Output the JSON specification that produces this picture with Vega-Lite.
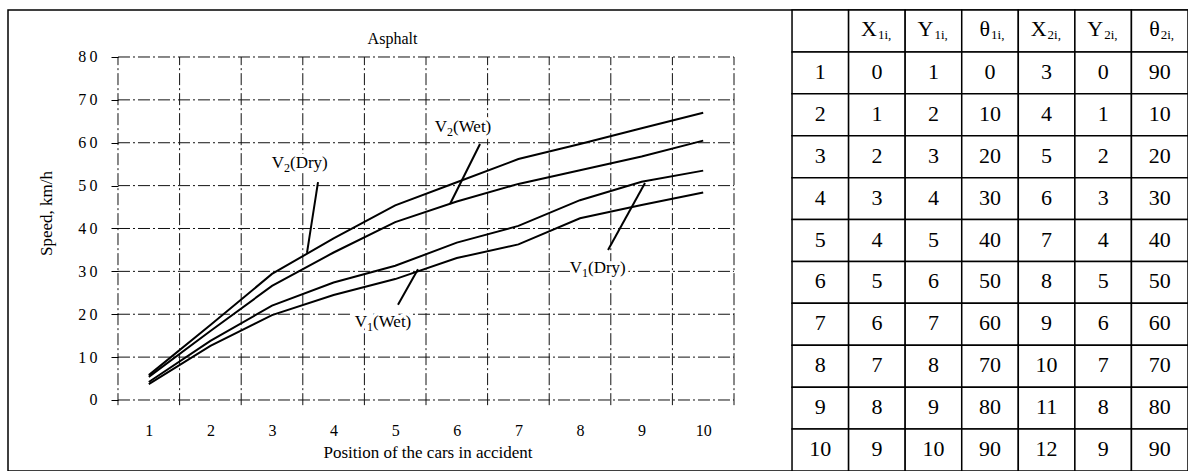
{
  "$schema": "https://vega.github.io/schema/vega-lite/v6.json",
  "width": 1180,
  "height": 461,
  "autosize": {"type": "none"},
  "padding": {"left": 8, "top": 10, "right": 0, "bottom": 0},
  "background": "white",
  "config": {
    "view": {"stroke": "#000", "strokeWidth": 1.5, "fill": "white"},
    "axis": {"labelFont": "Liberation Serif", "titleFont": "Liberation Serif", "labelColor": "#000", "titleColor": "#000", "tickColor": "#000", "titleFontWeight": "normal"}
  },
  "datasets": {
    "speeds": [
      {"s": "V2 Dry", "pos": 1, "v": 5.8}, {"s": "V2 Dry", "pos": 2, "v": 17.5}, {"s": "V2 Dry", "pos": 3, "v": 29.4}, {"s": "V2 Dry", "pos": 4, "v": 37.7}, {"s": "V2 Dry", "pos": 5, "v": 45.4}, {"s": "V2 Dry", "pos": 6, "v": 50.8}, {"s": "V2 Dry", "pos": 7, "v": 56.2}, {"s": "V2 Dry", "pos": 8, "v": 59.7}, {"s": "V2 Dry", "pos": 9, "v": 63.4}, {"s": "V2 Dry", "pos": 10, "v": 67.0},
      {"s": "V2 Wet", "pos": 1, "v": 5.4}, {"s": "V2 Wet", "pos": 2, "v": 16.1}, {"s": "V2 Wet", "pos": 3, "v": 26.6}, {"s": "V2 Wet", "pos": 4, "v": 34.4}, {"s": "V2 Wet", "pos": 5, "v": 41.5}, {"s": "V2 Wet", "pos": 6, "v": 46.3}, {"s": "V2 Wet", "pos": 7, "v": 50.4}, {"s": "V2 Wet", "pos": 8, "v": 53.6}, {"s": "V2 Wet", "pos": 9, "v": 56.8}, {"s": "V2 Wet", "pos": 10, "v": 60.5},
      {"s": "V1 Dry", "pos": 1, "v": 4.2}, {"s": "V1 Dry", "pos": 2, "v": 13.8}, {"s": "V1 Dry", "pos": 3, "v": 22.0}, {"s": "V1 Dry", "pos": 4, "v": 27.4}, {"s": "V1 Dry", "pos": 5, "v": 31.3}, {"s": "V1 Dry", "pos": 6, "v": 36.7}, {"s": "V1 Dry", "pos": 7, "v": 40.6}, {"s": "V1 Dry", "pos": 8, "v": 46.6}, {"s": "V1 Dry", "pos": 9, "v": 50.9}, {"s": "V1 Dry", "pos": 10, "v": 53.5},
      {"s": "V1 Wet", "pos": 1, "v": 3.7}, {"s": "V1 Wet", "pos": 2, "v": 12.6}, {"s": "V1 Wet", "pos": 3, "v": 19.8}, {"s": "V1 Wet", "pos": 4, "v": 24.5}, {"s": "V1 Wet", "pos": 5, "v": 28.2}, {"s": "V1 Wet", "pos": 6, "v": 33.1}, {"s": "V1 Wet", "pos": 7, "v": 36.3}, {"s": "V1 Wet", "pos": 8, "v": 42.4}, {"s": "V1 Wet", "pos": 9, "v": 45.5}, {"s": "V1 Wet", "pos": 10, "v": 48.4}
    ],
    "hgrid": [{"g": 0}, {"g": 10}, {"g": 20}, {"g": 30}, {"g": 40}, {"g": 50}, {"g": 60}, {"g": 70}, {"g": 80}],
    "vgrid": [{"g": 0.5}, {"g": 1.5}, {"g": 2.5}, {"g": 3.5}, {"g": 4.5}, {"g": 5.5}, {"g": 6.5}, {"g": 7.5}, {"g": 8.5}, {"g": 9.5}, {"g": 10.5}],
    "labels": [
      {"v": "V", "n": "2", "r": "\u00a0(Dry)", "x": 3.195, "y": 55.3},
      {"v": "V", "n": "2", "r": "\u00a0(Wet)", "x": 5.841, "y": 63.7},
      {"v": "V", "n": "1", "r": "(Dry)", "x": 8.032, "y": 30.8},
      {"v": "V", "n": "1", "r": "(Wet)", "x": 4.542, "y": 18.2}
    ],
    "pointers": [
      {"x": 3.747, "y": 50.8, "x2": 3.568, "y2": 34.3},
      {"x": 6.377, "y": 59.7, "x2": 5.89, "y2": 45.7},
      {"x": 8.455, "y": 35.0, "x2": 9.055, "y2": 50.6},
      {"x": 5.045, "y": 22.2, "x2": 5.37, "y2": 30.5}
    ],
    "header": [
      {"row": "h", "col": "c0", "m": "", "s": ""},
      {"row": "h", "col": "c1", "m": "X", "s": "1i,"},
      {"row": "h", "col": "c2", "m": "Y", "s": "1i,"},
      {"row": "h", "col": "c3", "m": "θ", "s": "1i,"},
      {"row": "h", "col": "c4", "m": "X", "s": "2i,"},
      {"row": "h", "col": "c5", "m": "Y", "s": "2i,"},
      {"row": "h", "col": "c6", "m": "θ", "s": "2i,"}
    ],
    "body": [
      {"row": "1", "col": "c0", "t": "1"}, {"row": "1", "col": "c1", "t": "0"}, {"row": "1", "col": "c2", "t": "1"}, {"row": "1", "col": "c3", "t": "0"}, {"row": "1", "col": "c4", "t": "3"}, {"row": "1", "col": "c5", "t": "0"}, {"row": "1", "col": "c6", "t": "90"},
      {"row": "2", "col": "c0", "t": "2"}, {"row": "2", "col": "c1", "t": "1"}, {"row": "2", "col": "c2", "t": "2"}, {"row": "2", "col": "c3", "t": "10"}, {"row": "2", "col": "c4", "t": "4"}, {"row": "2", "col": "c5", "t": "1"}, {"row": "2", "col": "c6", "t": "10"},
      {"row": "3", "col": "c0", "t": "3"}, {"row": "3", "col": "c1", "t": "2"}, {"row": "3", "col": "c2", "t": "3"}, {"row": "3", "col": "c3", "t": "20"}, {"row": "3", "col": "c4", "t": "5"}, {"row": "3", "col": "c5", "t": "2"}, {"row": "3", "col": "c6", "t": "20"},
      {"row": "4", "col": "c0", "t": "4"}, {"row": "4", "col": "c1", "t": "3"}, {"row": "4", "col": "c2", "t": "4"}, {"row": "4", "col": "c3", "t": "30"}, {"row": "4", "col": "c4", "t": "6"}, {"row": "4", "col": "c5", "t": "3"}, {"row": "4", "col": "c6", "t": "30"},
      {"row": "5", "col": "c0", "t": "5"}, {"row": "5", "col": "c1", "t": "4"}, {"row": "5", "col": "c2", "t": "5"}, {"row": "5", "col": "c3", "t": "40"}, {"row": "5", "col": "c4", "t": "7"}, {"row": "5", "col": "c5", "t": "4"}, {"row": "5", "col": "c6", "t": "40"},
      {"row": "6", "col": "c0", "t": "6"}, {"row": "6", "col": "c1", "t": "5"}, {"row": "6", "col": "c2", "t": "6"}, {"row": "6", "col": "c3", "t": "50"}, {"row": "6", "col": "c4", "t": "8"}, {"row": "6", "col": "c5", "t": "5"}, {"row": "6", "col": "c6", "t": "50"},
      {"row": "7", "col": "c0", "t": "7"}, {"row": "7", "col": "c1", "t": "6"}, {"row": "7", "col": "c2", "t": "7"}, {"row": "7", "col": "c3", "t": "60"}, {"row": "7", "col": "c4", "t": "9"}, {"row": "7", "col": "c5", "t": "6"}, {"row": "7", "col": "c6", "t": "60"},
      {"row": "8", "col": "c0", "t": "8"}, {"row": "8", "col": "c1", "t": "7"}, {"row": "8", "col": "c2", "t": "8"}, {"row": "8", "col": "c3", "t": "70"}, {"row": "8", "col": "c4", "t": "10"}, {"row": "8", "col": "c5", "t": "7"}, {"row": "8", "col": "c6", "t": "70"},
      {"row": "9", "col": "c0", "t": "9"}, {"row": "9", "col": "c1", "t": "8"}, {"row": "9", "col": "c2", "t": "9"}, {"row": "9", "col": "c3", "t": "80"}, {"row": "9", "col": "c4", "t": "11"}, {"row": "9", "col": "c5", "t": "8"}, {"row": "9", "col": "c6", "t": "80"},
      {"row": "10", "col": "c0", "t": "10"}, {"row": "10", "col": "c1", "t": "9"}, {"row": "10", "col": "c2", "t": "10"}, {"row": "10", "col": "c3", "t": "90"}, {"row": "10", "col": "c4", "t": "12"}, {"row": "10", "col": "c5", "t": "9"}, {"row": "10", "col": "c6", "t": "90"}
    ]
  },
  "layer": [
    {
      "data": {"name": "hgrid"},
      "mark": {"type": "rule", "stroke": "#111", "strokeWidth": 1, "strokeDash": [12, 3, 2, 3]},
      "encoding": {
        "y": {"field": "g", "type": "quantitative", "scale": {"domain": [-16.56, 90.962], "nice": false, "zero": false}, "axis": null},
        "x": {"datum": 0.5, "type": "quantitative", "scale": {"domain": [-1.2857, 17.87], "nice": false, "zero": false}, "axis": null},
        "x2": {"datum": 10.5}
      }
    },
    {
      "data": {"name": "vgrid"},
      "mark": {"type": "rule", "stroke": "#111", "strokeWidth": 1, "strokeDash": [12, 3, 2, 3]},
      "encoding": {
        "x": {"field": "g", "type": "quantitative", "scale": {"domain": [-1.2857, 17.87], "nice": false, "zero": false}, "axis": null},
        "y": {"datum": -1.2, "type": "quantitative", "scale": {"domain": [-16.56, 90.962], "nice": false, "zero": false}, "axis": null},
        "y2": {"datum": 80}
      }
    },
    {
      "data": {"name": "labels"},
      "mark": {"type": "text", "font": "Liberation Serif", "fontSize": 17, "stroke": "white", "strokeWidth": 7, "fill": "white", "align": "right", "baseline": "middle"},
      "encoding": {
        "x": {"field": "x", "type": "quantitative", "scale": {"domain": [-1.2857, 17.87], "nice": false, "zero": false}, "axis": null},
        "y": {"field": "y", "type": "quantitative", "scale": {"domain": [-16.56, 90.962], "nice": false, "zero": false}, "axis": null},
        "text": {"field": "v", "type": "nominal"}
      }
    },
    {
      "data": {"name": "labels"},
      "mark": {"type": "text", "font": "Liberation Serif", "fontSize": 12, "stroke": "white", "strokeWidth": 6, "fill": "white", "align": "left", "baseline": "middle", "dy": 5},
      "encoding": {
        "x": {"field": "x", "type": "quantitative", "scale": {"domain": [-1.2857, 17.87], "nice": false, "zero": false}, "axis": null},
        "y": {"field": "y", "type": "quantitative", "scale": {"domain": [-16.56, 90.962], "nice": false, "zero": false}, "axis": null},
        "text": {"field": "n", "type": "nominal"}
      }
    },
    {
      "data": {"name": "labels"},
      "mark": {"type": "text", "font": "Liberation Serif", "fontSize": 17, "stroke": "white", "strokeWidth": 7, "fill": "white", "align": "left", "baseline": "middle", "dx": 6},
      "encoding": {
        "x": {"field": "x", "type": "quantitative", "scale": {"domain": [-1.2857, 17.87], "nice": false, "zero": false}, "axis": null},
        "y": {"field": "y", "type": "quantitative", "scale": {"domain": [-16.56, 90.962], "nice": false, "zero": false}, "axis": null},
        "text": {"field": "r", "type": "nominal"}
      }
    },
    {
      "data": {"name": "speeds"},
      "mark": {"type": "line", "color": "#000", "strokeWidth": 2},
      "encoding": {
        "x": {
          "field": "pos", "type": "quantitative",
          "scale": {"domain": [-1.2857, 17.87], "nice": false, "zero": false},
          "axis": {
            "orient": "bottom", "offset": -71, "domain": false, "grid": false, "ticks": false, "zindex": 1,
            "values": [1, 2, 3, 4, 5, 6, 7, 8, 9, 10],
            "format": "d",
            "labelPadding": 22, "labelFontSize": 16, "labelOverlap": false, "labelFlush": false, "labelBound": false,
            "title": "Position of the cars in accident", "titleFontSize": 17,
            "titleX": 419.5, "titleY": 52, "titleAlign": "center", "titleBaseline": "middle"
          }
        },
        "y": {
          "field": "v", "type": "quantitative",
          "scale": {"domain": [-16.56, 90.962], "nice": false, "zero": false},
          "axis": {
            "orient": "left", "offset": -110, "domain": false, "grid": false, "zindex": 1,
            "values": [0, 10, 20, 30, 40, 50, 60, 70, 80],
            "format": "d",
            "labelExpr": "datum.value == 0 ? '0' : slice(datum.label, 0, 1) + '\u2009' + slice(datum.label, 1)",
            "tickSize": 7, "labelPadding": 14, "labelFontSize": 16, "labelOverlap": false, "labelFlush": false, "labelBound": false,
            "title": "Speed, km/h", "titleFontSize": 17,
            "titleX": -72, "titleY": 203, "titleAngle": -90, "titleAlign": "center", "titleBaseline": "middle"
          }
        },
        "detail": {"field": "s", "type": "nominal"}
      }
    },
    {
      "data": {"name": "pointers"},
      "mark": {"type": "rule", "color": "#000", "strokeWidth": 2},
      "encoding": {
        "x": {"field": "x", "type": "quantitative", "scale": {"domain": [-1.2857, 17.87], "nice": false, "zero": false}, "axis": null},
        "y": {"field": "y", "type": "quantitative", "scale": {"domain": [-16.56, 90.962], "nice": false, "zero": false}, "axis": null},
        "x2": {"field": "x2"},
        "y2": {"field": "y2"}
      }
    },
    {
      "data": {"name": "labels"},
      "mark": {"type": "text", "font": "Liberation Serif", "fontSize": 17, "color": "#000", "align": "right", "baseline": "middle"},
      "encoding": {
        "x": {"field": "x", "type": "quantitative", "scale": {"domain": [-1.2857, 17.87], "nice": false, "zero": false}, "axis": null},
        "y": {"field": "y", "type": "quantitative", "scale": {"domain": [-16.56, 90.962], "nice": false, "zero": false}, "axis": null},
        "text": {"field": "v", "type": "nominal"}
      }
    },
    {
      "data": {"name": "labels"},
      "mark": {"type": "text", "font": "Liberation Serif", "fontSize": 12, "color": "#000", "align": "left", "baseline": "middle", "dy": 5},
      "encoding": {
        "x": {"field": "x", "type": "quantitative", "scale": {"domain": [-1.2857, 17.87], "nice": false, "zero": false}, "axis": null},
        "y": {"field": "y", "type": "quantitative", "scale": {"domain": [-16.56, 90.962], "nice": false, "zero": false}, "axis": null},
        "text": {"field": "n", "type": "nominal"}
      }
    },
    {
      "data": {"name": "labels"},
      "mark": {"type": "text", "font": "Liberation Serif", "fontSize": 17, "color": "#000", "align": "left", "baseline": "middle", "dx": 6},
      "encoding": {
        "x": {"field": "x", "type": "quantitative", "scale": {"domain": [-1.2857, 17.87], "nice": false, "zero": false}, "axis": null},
        "y": {"field": "y", "type": "quantitative", "scale": {"domain": [-16.56, 90.962], "nice": false, "zero": false}, "axis": null},
        "text": {"field": "r", "type": "nominal"}
      }
    },
    {
      "data": {"values": [{"t": "Asphalt"}]},
      "mark": {"type": "text", "font": "Liberation Serif", "fontSize": 16, "color": "#000", "align": "center", "baseline": "middle"},
      "encoding": {
        "x": {"datum": 4.956, "type": "quantitative", "scale": {"domain": [-1.2857, 17.87], "nice": false, "zero": false}, "axis": null},
        "y": {"datum": 84.2, "type": "quantitative", "scale": {"domain": [-16.56, 90.962], "nice": false, "zero": false}, "axis": null},
        "text": {"field": "t", "type": "nominal"}
      }
    },
    {
      "data": {"name": "header"},
      "mark": {"type": "rect", "fill": "white", "stroke": "#000", "strokeWidth": 1.5},
      "encoding": {
        "x": {"field": "col", "type": "nominal", "scale": {"type": "band", "domain": ["p1", "p2", "p3", "p4", "p5", "p6", "p7", "p8", "p9", "p10", "p11", "p12", "c0", "c1", "c2", "c3", "c4", "c5", "c6"], "paddingInner": 0, "paddingOuter": 0.93, "align": 1}, "axis": null},
        "y": {"field": "row", "type": "nominal", "scale": {"type": "band", "domain": ["h", "1", "2", "3", "4", "5", "6", "7", "8", "9", "10"], "paddingInner": 0, "paddingOuter": 0}, "axis": null}
      }
    },
    {
      "data": {"name": "body"},
      "mark": {"type": "rect", "fill": "white", "stroke": "#000", "strokeWidth": 1.5},
      "encoding": {
        "x": {"field": "col", "type": "nominal", "scale": {"type": "band", "domain": ["p1", "p2", "p3", "p4", "p5", "p6", "p7", "p8", "p9", "p10", "p11", "p12", "c0", "c1", "c2", "c3", "c4", "c5", "c6"], "paddingInner": 0, "paddingOuter": 0.93, "align": 1}, "axis": null},
        "y": {"field": "row", "type": "nominal", "scale": {"type": "band", "domain": ["h", "1", "2", "3", "4", "5", "6", "7", "8", "9", "10"], "paddingInner": 0, "paddingOuter": 0}, "axis": null}
      }
    },
    {
      "data": {"name": "body"},
      "mark": {"type": "text", "font": "Liberation Serif", "fontSize": 22, "color": "#000", "align": "center", "baseline": "middle", "dy": -1},
      "encoding": {
        "x": {"field": "col", "type": "nominal", "scale": {"type": "band", "domain": ["p1", "p2", "p3", "p4", "p5", "p6", "p7", "p8", "p9", "p10", "p11", "p12", "c0", "c1", "c2", "c3", "c4", "c5", "c6"], "paddingInner": 0, "paddingOuter": 0.93, "align": 1}, "axis": null},
        "y": {"field": "row", "type": "nominal", "scale": {"type": "band", "domain": ["h", "1", "2", "3", "4", "5", "6", "7", "8", "9", "10"], "paddingInner": 0, "paddingOuter": 0}, "axis": null},
        "text": {"field": "t", "type": "nominal"}
      }
    },
    {
      "data": {"name": "header"},
      "mark": {"type": "text", "font": "Liberation Serif", "fontSize": 22, "color": "#000", "align": "right", "baseline": "middle", "dy": -2},
      "encoding": {
        "x": {"field": "col", "type": "nominal", "scale": {"type": "band", "domain": ["p1", "p2", "p3", "p4", "p5", "p6", "p7", "p8", "p9", "p10", "p11", "p12", "c0", "c1", "c2", "c3", "c4", "c5", "c6"], "paddingInner": 0, "paddingOuter": 0.93, "align": 1}, "axis": null},
        "y": {"field": "row", "type": "nominal", "scale": {"type": "band", "domain": ["h", "1", "2", "3", "4", "5", "6", "7", "8", "9", "10"], "paddingInner": 0, "paddingOuter": 0}, "axis": null},
        "text": {"field": "m", "type": "nominal"}
      }
    },
    {
      "data": {"name": "header"},
      "mark": {"type": "text", "font": "Liberation Serif", "fontSize": 13, "color": "#000", "align": "left", "baseline": "middle", "dx": 1, "dy": 4},
      "encoding": {
        "x": {"field": "col", "type": "nominal", "scale": {"type": "band", "domain": ["p1", "p2", "p3", "p4", "p5", "p6", "p7", "p8", "p9", "p10", "p11", "p12", "c0", "c1", "c2", "c3", "c4", "c5", "c6"], "paddingInner": 0, "paddingOuter": 0.93, "align": 1}, "axis": null},
        "y": {"field": "row", "type": "nominal", "scale": {"type": "band", "domain": ["h", "1", "2", "3", "4", "5", "6", "7", "8", "9", "10"], "paddingInner": 0, "paddingOuter": 0}, "axis": null},
        "text": {"field": "s", "type": "nominal"}
      }
    }
  ],
  "resolve": {"scale": {"x": "independent", "y": "independent"}, "axis": {"x": "independent", "y": "independent"}}
}
